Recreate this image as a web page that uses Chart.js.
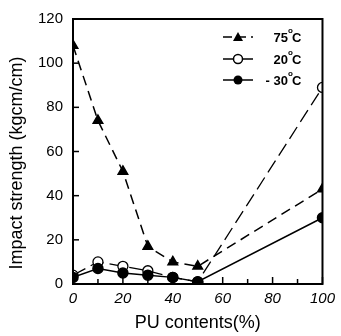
<!DOCTYPE html>
<html>
<head>
<meta charset="utf-8">
<script src="https://cdn.jsdelivr.net/npm/chart.js@4"></script>
<style>
  html, body { margin: 0; padding: 0; background: #fff; }
  #wrap { width: 341px; height: 336px; }
</style>
</head>
<body>
<div id="wrap"><canvas id="impactChart" width="341" height="336"></canvas></div>
<script>
const puContents = [0, 10, 20, 30, 40, 50, 100];
const impact75 = [108, 74, 51, 17, 10, 8, 43];
const impact20 = [4, 10, 8, 6, 3, 1, 89];
const impactMinus30 = [3, 7, 5, 4, 3, 1, 30];
const seriesLabels = ['75', '20', '- 30'];
const xTicks = [0, 10, 20, 30, 40, 50, 60, 70, 80, 90, 100];
const yTicks = [0, 20, 40, 60, 80, 100, 120];
const yTitle = 'Impact strength (kgcm/cm)';

const FONT = '"Liberation Sans", Arial, sans-serif';
const toPoints = (vals) => puContents.map((x, i) => ({ x: x, y: vals[i] }));

// frame, inward ticks and the y title
const framePlugin = {
    id: 'frame',
    afterDraw(chart) {
        const { ctx, chartArea: a, scales } = chart;
        ctx.save();
        ctx.strokeStyle = '#000';
        ctx.lineWidth = 2;
        ctx.strokeRect(a.left, a.top, a.right - a.left, a.bottom - a.top);
        ctx.lineWidth = 1.5;
        xTicks.forEach(v => {
            const px = scales.x.getPixelForValue(v);
            const len = v % 20 === 0 ? 7 : 5;
            ctx.beginPath();
            ctx.moveTo(px, a.bottom);
            ctx.lineTo(px, a.bottom - len);
            ctx.stroke();
        });
        yTicks.forEach(v => {
            const py = scales.y.getPixelForValue(v);
            ctx.beginPath();
            ctx.moveTo(a.left, py);
            ctx.lineTo(a.left + 6, py);
            ctx.stroke();
        });
        // y title, a bit below the centre as in the original
        ctx.translate(17, 163);
        ctx.rotate(-Math.PI / 2);
        ctx.fillStyle = '#000';
        ctx.font = '18px ' + FONT;
        ctx.textAlign = 'center';
        ctx.textBaseline = 'middle';
        ctx.fillText(yTitle, 0, 0);
        ctx.restore();
    }
};

// legend inside the plot, top right
const legendPlugin = {
    id: 'innerLegend',
    afterDraw(chart) {
        const ctx = chart.ctx;
        const rows = [
            { y: 37, dash: [9, 5], marker: 'tri', label: seriesLabels[0] },
            { y: 59, dash: [], marker: 'open', label: seriesLabels[1] },
            { y: 80, dash: [], marker: 'fill', label: seriesLabels[2] }
        ];
        ctx.save();
        rows.forEach(r => {
            ctx.strokeStyle = '#000';
            ctx.fillStyle = '#000';
            ctx.lineWidth = 1.5;
            ctx.setLineDash(r.dash);
            ctx.beginPath();
            ctx.moveTo(223, r.y);
            ctx.lineTo(253, r.y);
            ctx.stroke();
            ctx.setLineDash([]);
            const cx = 238;
            ctx.beginPath();
            if (r.marker === 'tri') {
                ctx.moveTo(cx, r.y - 5);
                ctx.lineTo(cx + 5, r.y + 4);
                ctx.lineTo(cx - 5, r.y + 4);
                ctx.closePath();
                ctx.fill();
            } else {
                ctx.arc(cx, r.y, 4.5, 0, Math.PI * 2);
                if (r.marker === 'open') {
                    ctx.fillStyle = '#fff';
                    ctx.fill();
                    ctx.stroke();
                } else {
                    ctx.fill();
                }
            }
            ctx.fillStyle = '#000';
            ctx.font = 'bold 13px ' + FONT;
            ctx.textBaseline = 'middle';
            ctx.textAlign = 'right';
            ctx.fillText(r.label, 288, r.y + 1);
            ctx.font = 'bold 8px ' + FONT;
            ctx.textAlign = 'left';
            ctx.fillText('o', 288, r.y - 6);
            ctx.font = 'bold 13px ' + FONT;
            ctx.fillText('C', 292, r.y + 1);
        });
        ctx.restore();
    }
};

const ctx = document.getElementById('impactChart').getContext('2d');

new Chart(ctx, {
    type: 'scatter',
    data: {
        datasets: [
            {
                label: '75°C',
                data: toPoints(impact75),
                showLine: true,
                borderColor: '#000',
                backgroundColor: '#000',
                borderWidth: 1.5,
                borderDash: [10, 6],
                pointStyle: 'triangle',
                pointRadius: 5.5,
                order: 3
            },
            {
                label: '20°C',
                data: toPoints(impact20),
                showLine: true,
                borderColor: '#000',
                backgroundColor: '#fff',
                borderWidth: 1.3,
                borderDash: [14, 6],
                pointBorderWidth: 1.3,
                pointStyle: 'circle',
                pointRadius: 5,
                order: 2
            },
            {
                label: '-30°C',
                data: toPoints(impactMinus30),
                showLine: true,
                borderColor: '#000',
                backgroundColor: '#000',
                borderWidth: 1.5,
                pointStyle: 'circle',
                pointRadius: 5,
                order: 1
            }
        ]
    },
    options: {
        responsive: false,
        animation: false,
        layout: { padding: { top: 16, right: 13, left: 0, bottom: 0 } },
        plugins: {
            legend: { display: false },
            tooltip: { enabled: false }
        },
        scales: {
            x: {
                type: 'linear',
                min: 0,
                max: 100,
                afterFit: (s) => { s.height = 52; },
                afterBuildTicks: (s) => { s.ticks = xTicks.map(v => ({ value: v })); },
                grid: { display: false, drawTicks: false },
                border: { display: false },
                ticks: {
                    padding: 6,
                    color: '#000',
                    autoSkip: false,
                    maxRotation: 0,
                    minRotation: 0,
                    font: { family: FONT, size: 15, style: 'italic' },
                    callback: (v) => (v % 20 === 0 ? v : '')
                },
                title: {
                    display: true,
                    text: 'PU contents(%)',
                    color: '#000',
                    padding: { top: 0, bottom: 2 },
                    font: { family: FONT, size: 18 }
                }
            },
            y: {
                min: 0,
                max: 120,
                afterFit: (s) => { s.width = 73; },
                afterBuildTicks: (s) => { s.ticks = yTicks.map(v => ({ value: v })); },
                grid: { display: false, drawTicks: false },
                border: { display: false },
                ticks: {
                    padding: 10,
                    color: '#000',
                    font: { family: FONT, size: 15 }
                },
                title: { display: false }
            }
        }
    },
    plugins: [framePlugin, legendPlugin]
});
</script>
</body>
</html>
